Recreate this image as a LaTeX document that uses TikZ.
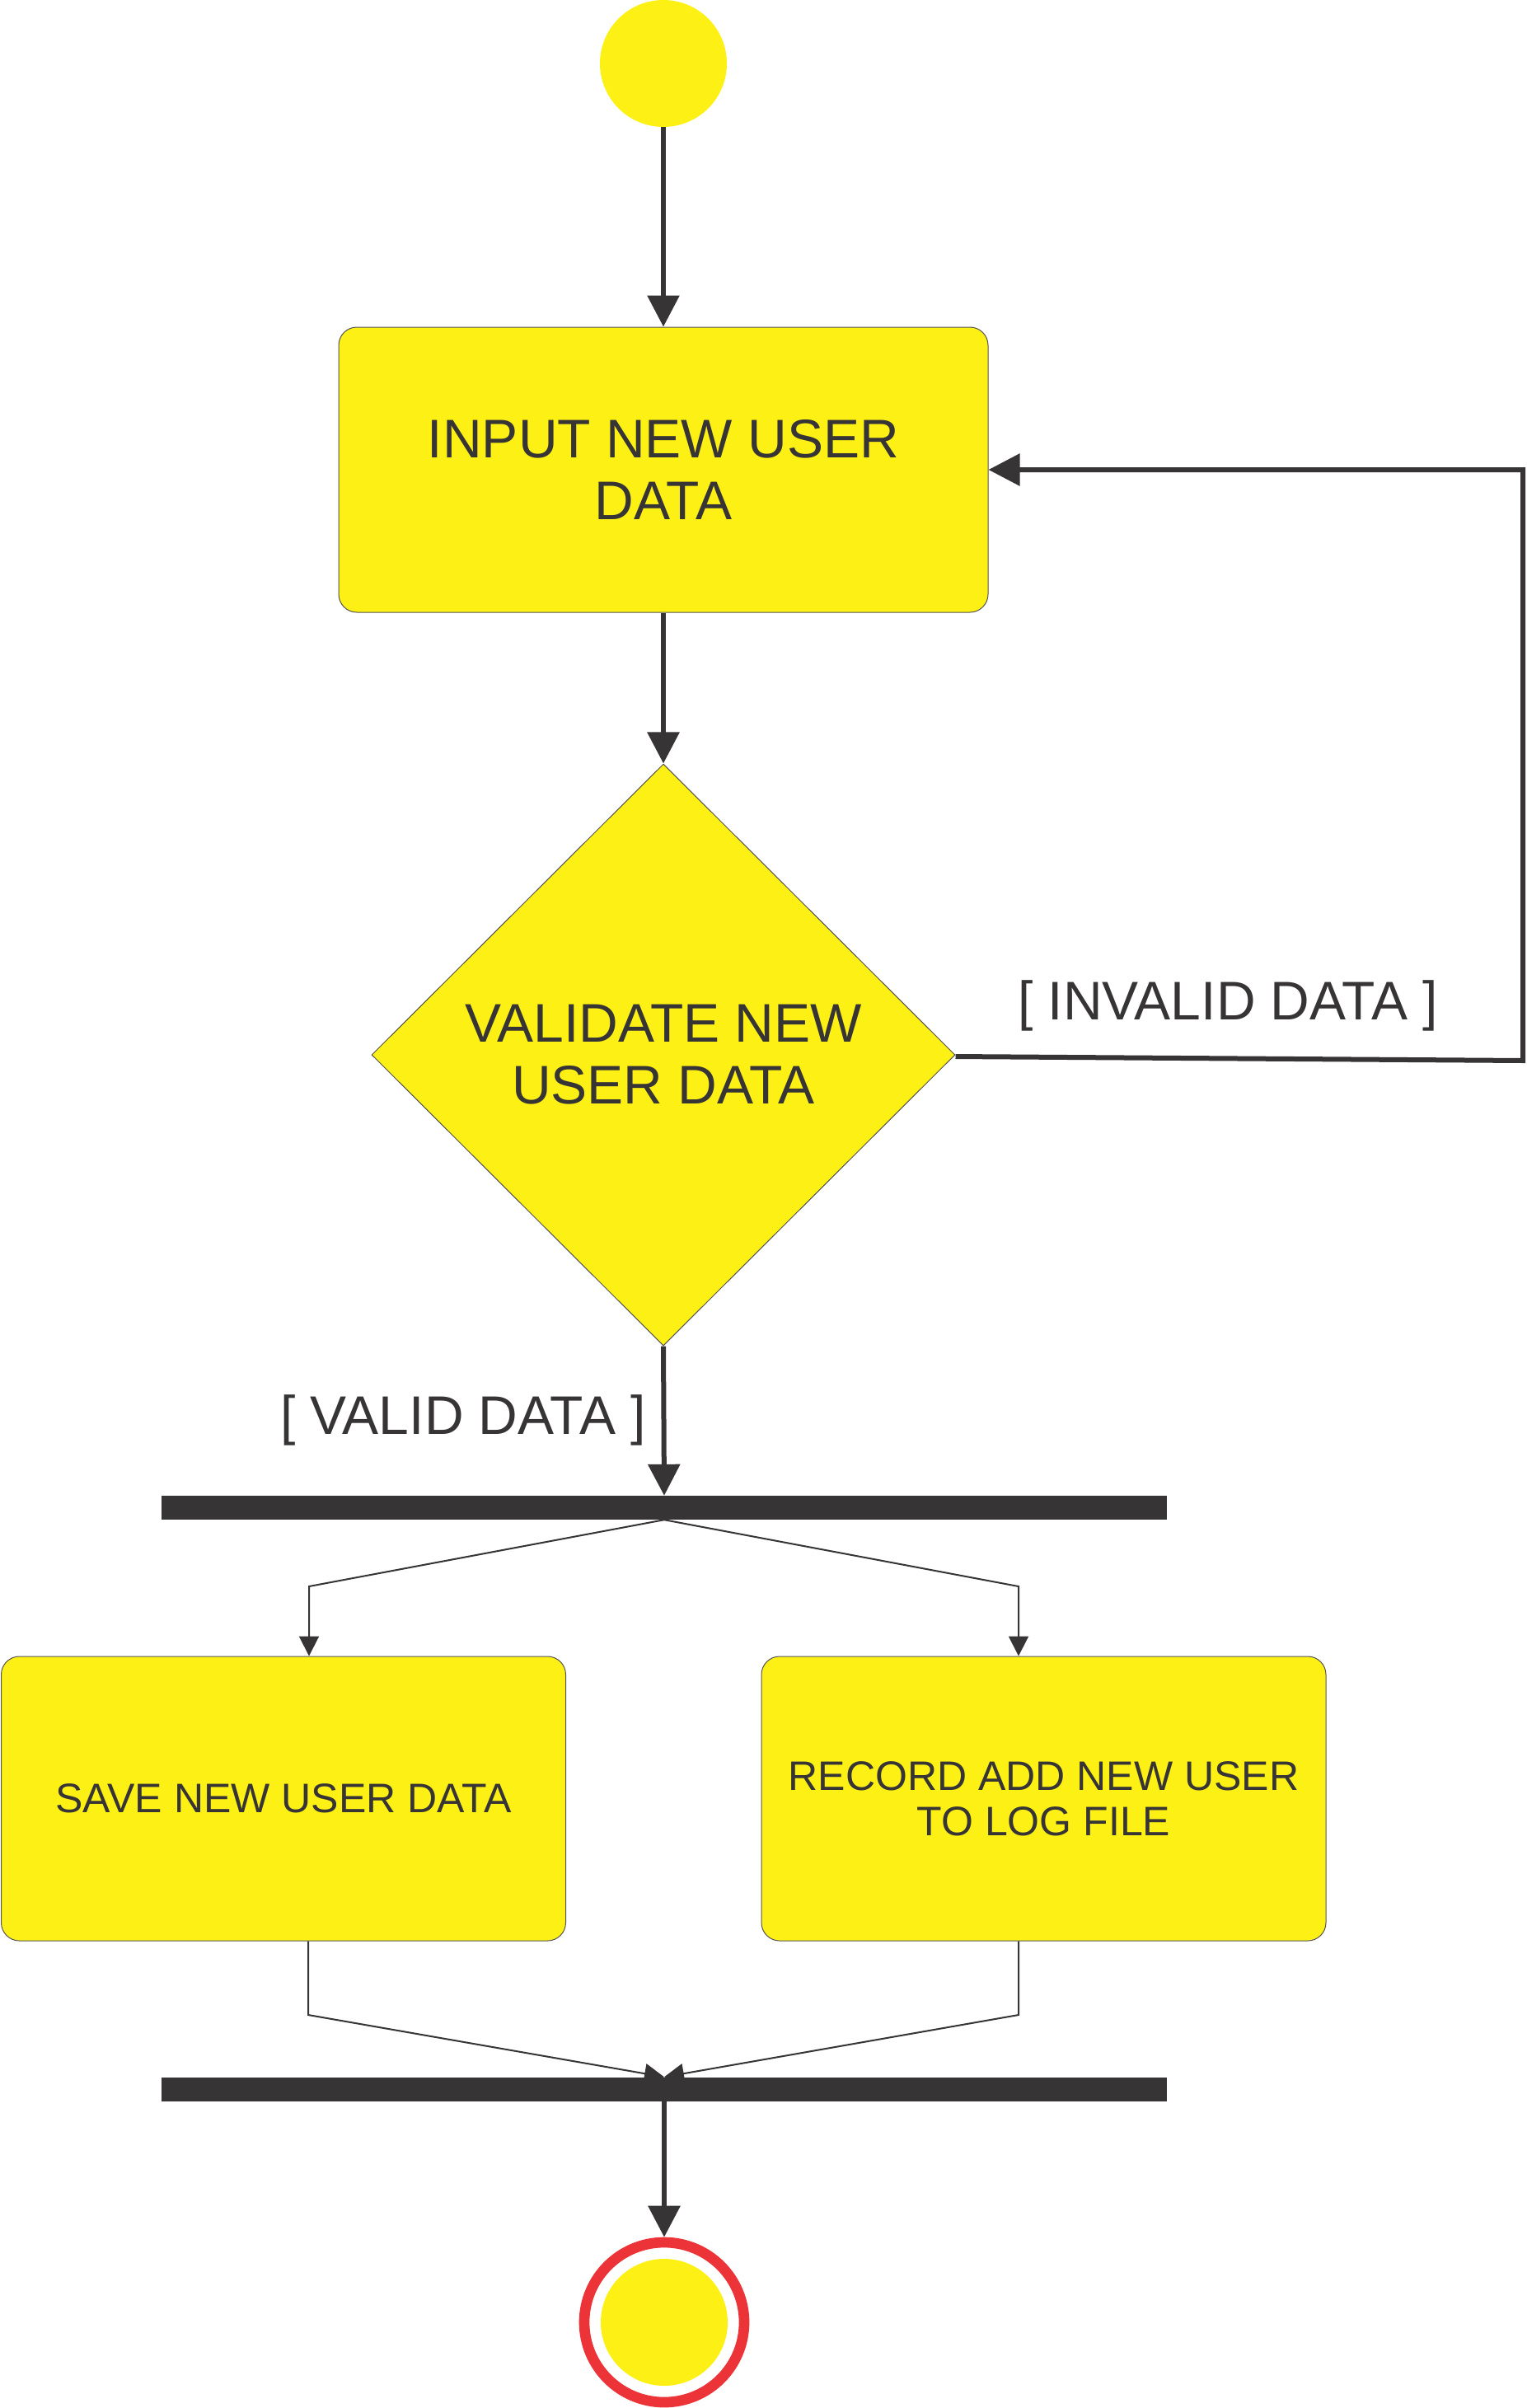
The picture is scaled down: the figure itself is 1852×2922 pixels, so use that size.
\documentclass[tikz,border=0pt]{standalone}
\usepackage{fontspec}
\setmainfont{Liberation Sans}
\usetikzlibrary{shapes.geometric,arrows.meta,calc}
\definecolor{umlyellow}{RGB}{253,240,20}
\definecolor{umlgray}{RGB}{55,52,53}
\definecolor{umlred}{RGB}{236,51,56}
\begin{document}
\begin{tikzpicture}[x=1pt,y=-1pt,
  activity/.style={draw=umlgray!85, line width=1pt, fill=umlyellow, rounded corners=22pt,
    text=umlgray, align=center, inner sep=0pt},
  decision/.style={diamond, draw=umlgray!85, line width=1pt, fill=umlyellow,
    text=umlgray, align=center, inner sep=0pt},
  syncbar/.style={fill=umlgray, draw=none, minimum width=1220pt, minimum height=29pt, inner sep=0pt},
  flowthick/.style={draw=umlgray, line width=6pt, -{Triangle[length=38pt,width=38pt]}},
  flowthin/.style={draw=umlgray, line width=2pt, -{Triangle[length=24pt,width=24pt]}},
  guard/.style={text=umlgray, font=\fontsize{66}{75}\selectfont, inner sep=0pt, anchor=base}]

\useasboundingbox (0,0) rectangle (1852,2922);

% nodes
\node[circle, fill=umlyellow, minimum size=154pt, inner sep=0pt] (start) at (805,77) {};
\node[activity, minimum width=788pt, minimum height=346pt, font=\fontsize{66}{75}\selectfont]
  (input) at (805,570) {INPUT NEW USER\\DATA};
\node[decision, minimum width=708pt, minimum height=706pt, font=\fontsize{66}{75}\selectfont]
  (validate) at (805,1280) {VALIDATE NEW\\USER DATA};
\node[syncbar] (fork) at (806,1829.5) {};
\node[activity, minimum width=685pt, minimum height=345pt, font=\fontsize{50}{55}\selectfont]
  (save) at (344,2182.5) {SAVE NEW USER DATA};
\node[activity, minimum width=685pt, minimum height=345pt, font=\fontsize{50}{55}\selectfont]
  (record) at (1266.5,2182.5) {RECORD ADD NEW USER\\TO LOG FILE};
\node[syncbar] (join) at (806,2535) {};
\node[circle, draw=umlred, line width=12.7pt, minimum size=194pt, inner sep=0pt] (final) at (806,2818) {};
\node[circle, fill=umlyellow, minimum size=154pt, inner sep=0pt] (finalcore) at (final.center) {};

% guard labels
\node[guard] (invalidlbl) at (1490,1237) {[ INVALID DATA ]};
\node[guard] (validlbl) at (562,1740) {[ VALID DATA ]};

% bend points
\coordinate (loopbottom) at (1848,1287);
\coordinate (looptop) at (1848,570);
\coordinate (forkl) at (375,1925);
\coordinate (forkr) at (1236,1925);
\coordinate (joinl) at (374,2445);
\coordinate (joinr) at (1236,2445);

% connectors
\draw[flowthick] (start) -- (input);
\draw[flowthick] (input) -- (validate);
\draw[flowthick] ($(validate.east)+(0,2)$) -- (loopbottom) -- (looptop) -- (input.east);
\draw[flowthick] (validate.south) -- (fork.north);
\draw[flowthin] (fork.south) -- (forkl) -- (save.north -| forkl);
\draw[flowthin] (fork.south) -- (forkr) -- (record.north -| forkr);
\draw[flowthin] (save.south -| joinl) -- (joinl) -- (join.north);
\draw[flowthin] (record.south -| joinr) -- (joinr) -- (join.north);
\draw[flowthick] (join.south) -- (final);
\end{tikzpicture}
\end{document}
